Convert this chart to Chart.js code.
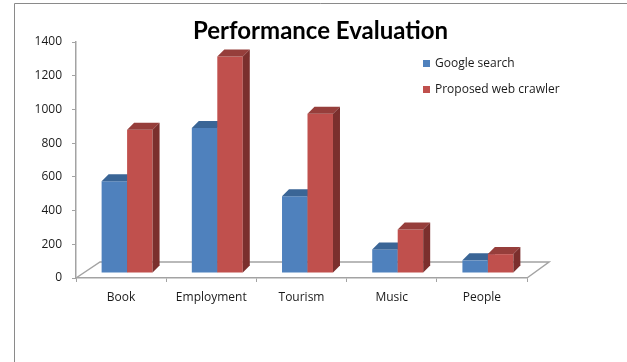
<!DOCTYPE html>
<html>
<head>
<meta charset="utf-8">
<title>Performance Evaluation</title>
<script src="https://cdn.jsdelivr.net/npm/chart.js@4.4.1/dist/chart.umd.min.js"></script>
<style>
    html, body { margin: 0; padding: 0; background: #fff; }
    #perfChart { display: block; }
</style>
</head>
<body>
<canvas id="perfChart" width="627" height="362"></canvas>
<script>
// Results per query topic
var categories = ["Book", "Employment", "Tourism", "Music", "People"];
var googleSearch = [545, 860, 455, 140, 75];
var proposedCrawler = [850, 1285, 945, 258, 112];
var yTicks = [0, 200, 400, 600, 800, 1000, 1200, 1400];

// 3D look: bars sit a bit back on the floor, faces go up and to the right
var shiftX = 6, shiftY = -5;
var depthX = 7, depthY = -7;
var lineGrey = '#a3a3a3';
var textColor = '#1a1a1a';

var frame = {
    id: 'frame',
    beforeDraw: function (chart) {
        var ctx = chart.ctx;
        ctx.save();
        ctx.strokeStyle = '#8a8a8a';
        ctx.lineWidth = 1;
        ctx.beginPath();
        ctx.moveTo(14.5, chart.height);
        ctx.lineTo(14.5, 3.5);
        ctx.lineTo(chart.width, 3.5);
        ctx.stroke();
        ctx.restore();
    }
};

// bars are painted here, series by series, so that each front face
// covers the side face of the bar to its left
var barFaces = {
    id: 'barFaces',
    beforeDatasetDraw: function () {
        return false;
    },
    afterDatasetsDraw: function (chart) {
        var ctx = chart.ctx;
        var ca = chart.chartArea;

        // floor
        ctx.save();
        ctx.strokeStyle = lineGrey;
        ctx.lineWidth = 1.5;
        ctx.beginPath();
        ctx.moveTo(ca.left, ca.bottom);
        ctx.lineTo(ca.left + 24, ca.bottom - 16);
        ctx.lineTo(ca.right + 22, ca.bottom - 16);
        ctx.lineTo(ca.right, ca.bottom);
        ctx.stroke();
        ctx.restore();

        ctx.save();
        ctx.translate(shiftX, shiftY);
        chart.data.datasets.forEach(function (ds, i) {
            chart.getDatasetMeta(i).data.forEach(function (bar) {
                bar.draw(ctx);
                var p = bar.getProps(['x', 'y', 'base', 'width'], true);
                var l = p.x - p.width / 2;
                var r = p.x + p.width / 2;
                ctx.fillStyle = ds.topColor;
                ctx.beginPath();
                ctx.moveTo(l, p.y);
                ctx.lineTo(l + depthX, p.y + depthY);
                ctx.lineTo(r + depthX, p.y + depthY);
                ctx.lineTo(r, p.y);
                ctx.closePath();
                ctx.fill();
                ctx.fillStyle = ds.sideColor;
                ctx.beginPath();
                ctx.moveTo(r, p.y);
                ctx.lineTo(r + depthX, p.y + depthY);
                ctx.lineTo(r + depthX, p.base + depthY);
                ctx.lineTo(r, p.base);
                ctx.closePath();
                ctx.fill();
            });
        });
        ctx.restore();
    }
};

var sideLegend = {
    id: 'sideLegend',
    afterDraw: function (chart) {
        var ctx = chart.ctx;
        ctx.save();
        ctx.font = '12px "Open Sans"';
        ctx.textBaseline = 'middle';
        chart.data.datasets.forEach(function (ds, i) {
            var y = 63.5 + i * 26;
            ctx.fillStyle = ds.backgroundColor;
            ctx.fillRect(423, y - 3.5, 7, 7);
            ctx.fillStyle = textColor;
            ctx.fillText(ds.label, 435, y);
        });
        ctx.restore();
    }
};

var chrt = document.getElementById("perfChart").getContext("2d");
var chartId = new Chart(chrt, {
    type: 'bar',
    data: {
        labels: categories,
        datasets: [{
            label: "Google search",
            data: googleSearch,
            backgroundColor: '#4f81bd',
            topColor: '#3a6596',
            sideColor: '#335a87'
        }, {
            label: "Proposed web crawler",
            data: proposedCrawler,
            backgroundColor: '#c0504d',
            topColor: '#963e3b',
            sideColor: '#7b2f2d'
        }]
    },
    options: {
        responsive: false,
        animation: false,
        devicePixelRatio: 1,
        categoryPercentage: 0.565,
        barPercentage: 1.0,
        layout: {
            padding: { left: 14, top: 0, right: 0, bottom: 54 }
        },
        scales: {
            y: {
                min: yTicks[0],
                max: yTicks[yTicks.length - 1],
                afterFit: function (scale) { scale.width = 62; },
                ticks: {
                    stepSize: yTicks[1] - yTicks[0],
                    padding: 10,
                    color: textColor,
                    font: { family: 'Open Sans', size: 12 },
                    callback: function (val) { return String(val); }
                },
                grid: {
                    drawOnChartArea: false,
                    tickLength: 4,
                    color: lineGrey
                },
                border: { color: lineGrey, width: 1.5 }
            },
            // empty strip on the right, room for the legend column
            spacer: {
                position: 'right',
                afterFit: function (scale) { scale.width = 100; },
                ticks: { display: false },
                grid: { display: false },
                border: { display: false }
            },
            x: {
                afterFit: function (scale) { scale.height = 30; },
                ticks: {
                    padding: 8,
                    color: textColor,
                    font: { family: 'Open Sans', size: 12 }
                },
                grid: {
                    offset: true,
                    drawOnChartArea: false,
                    tickLength: 4,
                    color: lineGrey
                },
                border: { color: lineGrey, width: 1.5 }
            }
        },
        plugins: {
            legend: { display: false },
            tooltip: { enabled: false },
            title: {
                display: true,
                text: 'Performance Evaluation',
                color: '#000',
                font: { family: 'Lato', size: 24, weight: 'bold', lineHeight: 1 },
                padding: { top: 19, bottom: -1 }
            }
        }
    },
    plugins: [frame, barFaces, sideLegend]
});
</script>
</body>
</html>
